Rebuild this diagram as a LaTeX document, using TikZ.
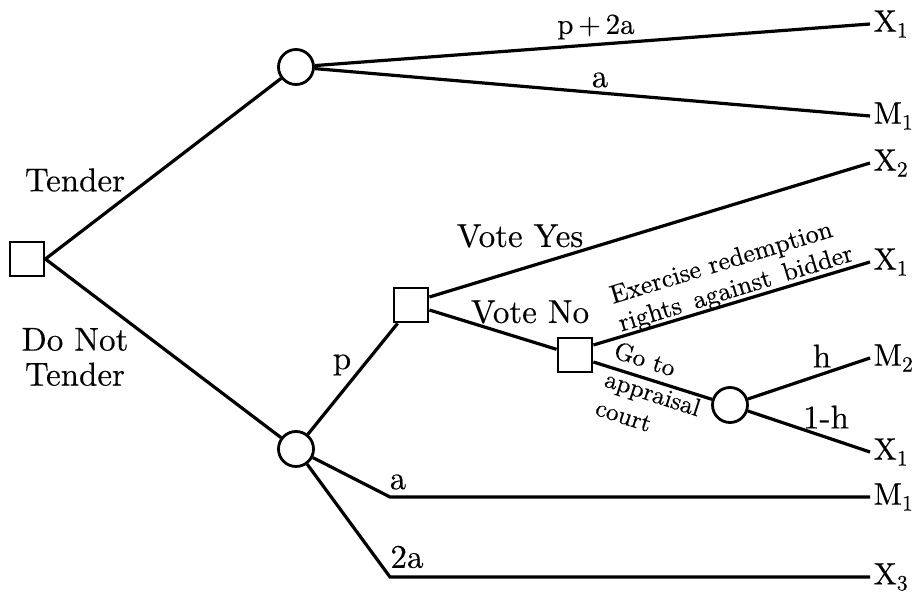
\documentclass[tikz,border=0pt]{standalone}
\usepackage{fontspec}
\setmainfont{lmroman10-regular.otf}[FakeBold=0.35]
\begin{document}
\begin{tikzpicture}[x=1pt,y=-1pt, line width=3.2pt,
 dec/.style={draw, rectangle, minimum size=34pt, inner sep=0pt, line width=2.8pt},
 chance/.style={draw, circle, minimum size=35pt, inner sep=0pt, line width=2.8pt},
 lab/.style={font=\fontsize{33}{35}\selectfont, inner sep=0pt, align=center},
 rlab/.style={font=\fontsize{26}{29}\selectfont, inner sep=0pt, align=left},
 term/.style={font=\fontsize{31}{33}\selectfont, anchor=west, inner sep=2pt}]
\useasboundingbox (0,0) rectangle (912,593);
% decision and chance nodes
\node[dec] (root) at (27,259) {};
\node[chance] (c1) at (296,67) {};
\node[chance] (c2) at (296,449) {};
\node[dec] (vs) at (411,305) {};
\node[dec] (vn) at (575,355) {};
\node[chance] (c3) at (730,405) {};
% end points
\coordinate (t1) at (870,24);
\coordinate (t2) at (870,116);
\coordinate (t3) at (870,163);
\coordinate (t4) at (870,262);
\coordinate (t5) at (870,358);
\coordinate (t6) at (870,452);
\coordinate (t7) at (870,497);
\coordinate (t8) at (870,577);
\coordinate (b7) at (390,497);
\coordinate (b8) at (390,577);
% connectors
\draw (root.east) -- (c1);
\draw (root.east) -- (c2);
\draw (c1) -- (t1);
\draw (c1) -- (t2);
\draw (c2) -- ([xshift=5pt]vs.south west);
\draw (c2) -- (b7) -- (t7);
\draw (c2) -- (b8) -- (t8);
\draw ([yshift=8pt]vs.east) -- (t3);
\draw ([yshift=-5pt]vs.east) -- (vn);
\draw ([yshift=10pt]vn.east) -- (t4);
\draw ([yshift=-7pt]vn.east) -- (c3);
\draw (c3) -- (t5);
\draw (c3) -- (t6);
% terminal labels
\node[term] (l1) at (t1) {X\textsubscript{1}};
\node[term] (l2) at (t2) {M\textsubscript{1}};
\node[term] (l3) at (t3) {X\textsubscript{2}};
\node[term] (l4) at (t4) {X\textsubscript{1}};
\node[term] (l5) at (t5) {M\textsubscript{2}};
\node[term] (l6) at (t6) {X\textsubscript{1}};
\node[term] (l7) at (t7) {M\textsubscript{1}};
\node[term] (l8) at (t8) {X\textsubscript{3}};
% branch labels
\node[lab] (tender) at (75,180) {Tender};
\node[lab] (dnt) at (75,357) {Do Not\\Tender};
\node[lab, font=\fontsize{29}{31}\selectfont] (p2a) at (596,27) {p\,+\,2a};
\node[lab] (a1) at (600,80) {a};
\node[lab] (p) at (342,365) {p};
\node[lab] (a2) at (398,482) {a};
\node[lab] (a3) at (407,557) {2a};
\node[lab] (vy) at (520,236) {Vote Yes};
\node[lab] (vno) at (530,312) {Vote No};
\node[lab] (h) at (822,356) {h};
\node[lab] (h1) at (826,417) {1-h};
\node[rlab, rotate=17] (ex) at (732,276) {Exercise redemption\\rights\ \,against\ \,bidder};
\node[rlab, rotate=-18, font=\fontsize{25}{30}\selectfont] (go) at (653,393) {Go to\\appraisal\\court};
\end{tikzpicture}
\end{document}
